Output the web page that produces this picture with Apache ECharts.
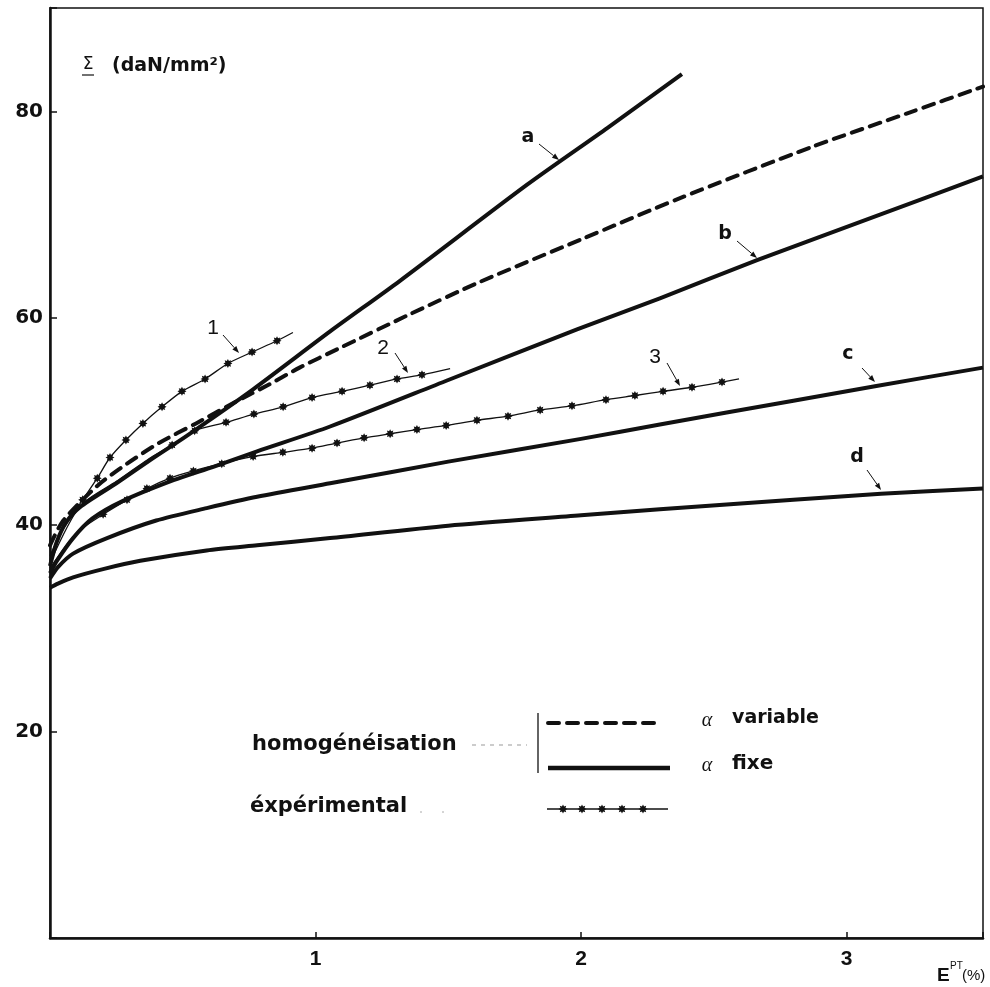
<!DOCTYPE html>
<html>
<head>
<meta charset="utf-8">
<script src="https://cdn.jsdelivr.net/npm/echarts@6/dist/echarts.min.js"></script>
<style>
html,body{margin:0;padding:0;background:#fff;}
#chart{width:990px;height:987px;}
</style>
</head>
<body>
<div id="chart"></div>
<script>
// ---- data (E^PT in %, Sigma in daN/mm2) ----
const xTicks = [1, 2, 3];
const yTicks = [20, 40, 60, 80];

const curveVariable = [[0,38.0],[0.05,40.4],[0.18,43.8],[0.29,45.9],[0.41,47.9],[0.55,49.8],[0.7,51.9],[0.828,53.6],[0.94,55.2],[1.092,57.1],[1.35,60.3],[1.62,63.5],[2.0,67.6],[2.373,71.6],[2.874,76.6],[3.25,80.0],[3.514,82.4]];
const curveA = [[0,36.0],[0.025,38.3],[0.06,40.2],[0.113,41.7],[0.25,44.0],[0.38,46.3],[0.515,48.6],[0.765,53.1],[1.055,58.7],[1.318,63.6],[1.797,72.9],[2.1,78.4],[2.38,83.6]];
const curveB = [[0,35.3],[0.026,36.5],[0.087,38.7],[0.16,40.6],[0.275,42.3],[0.465,44.3],[0.615,45.6],[0.78,47.1],[1.055,49.5],[1.5,54.0],[1.985,58.9],[2.297,61.9],[2.663,65.6],[3.126,70.0],[3.514,73.7]];
const curveC = [[0,34.8],[0.03,35.9],[0.087,37.2],[0.215,38.7],[0.4,40.4],[0.59,41.6],[0.78,42.7],[1.055,44.0],[1.5,46.1],[2.0,48.3],[2.297,49.7],[2.8,52.0],[3.107,53.4],[3.514,55.2]];
const curveD = [[0,33.9],[0.03,34.3],[0.087,34.9],[0.2,35.7],[0.34,36.5],[0.59,37.5],[0.78,38.0],[1.055,38.7],[1.5,39.9],[2.0,40.9],[2.297,41.5],[2.8,42.4],[3.13,43.0],[3.514,43.5]];

const exp1 = [[0,37.0],[0.05,39.6],[0.123,42.4],[0.178,44.5],[0.226,46.5],[0.286,48.2],[0.35,49.8],[0.422,51.4],[0.497,52.9],[0.584,54.1],[0.67,55.6],[0.761,56.7],[0.855,57.8],[0.915,58.6]];
const exp2 = [[0,36.3],[0.113,41.8],[0.25,44.2],[0.38,46.5],[0.46,47.7],[0.545,49.1],[0.663,49.9],[0.768,50.7],[0.878,51.4],[0.987,52.3],[1.10,52.9],[1.205,53.5],[1.307,54.1],[1.401,54.5],[1.507,55.1]];
const exp3 = [[0,35.8],[0.1,39.2],[0.2,41.0],[0.29,42.4],[0.365,43.5],[0.452,44.5],[0.54,45.2],[0.647,45.9],[0.765,46.6],[0.877,47.0],[0.987,47.4],[1.081,47.9],[1.183,48.4],[1.281,48.8],[1.382,49.2],[1.492,49.6],[1.608,50.1],[1.725,50.5],[1.846,51.1],[1.966,51.5],[2.094,52.1],[2.203,52.5],[2.309,52.9],[2.418,53.3],[2.531,53.8],[2.595,54.1]];

// ---- styling ----
const INK = '#111';
const starSym = 'path://M10,0 L5.54,2.3 L7.07,7.07 L2.3,5.54 L0,10 L-2.3,5.54 L-7.07,7.07 L-5.54,2.3 L-10,0 L-5.54,-2.3 L-7.07,-7.07 L-2.3,-5.54 L0,-10 L2.3,-5.54 L7.07,-7.07 L5.54,-2.3 Z';

function withMarkers(arr, from, to) {
  return arr.map((p, i) => (i >= from && i <= to) ? { value: p } : { value: p, symbol: 'none' });
}

function thick(name, data, dashed) {
  return {
    name, type: 'line', data, smooth: 0.25, showSymbol: false, symbol: 'none',
    lineStyle: { color: INK, width: 4, type: dashed ? [11, 8] : 'solid', cap: dashed ? 'round' : 'butt', join: 'round' },
    z: 3, silent: true
  };
}
function expe(name, data) {
  return {
    name, type: 'line', data, smooth: 0.25, showSymbol: true,
    symbol: starSym, symbolSize: 9, itemStyle: { color: INK },
    lineStyle: { color: INK, width: 1.3 }, z: 4, silent: true
  };
}

const FB = 'DejaVu Sans';
const FN = '"Liberation Sans Narrow", "Liberation Sans", sans-serif';

function txt(x, y, s, size, opts) {
  return {
    type: 'text', x, y,
    style: Object.assign({ text: s, fill: INK, fontSize: size, fontFamily: FB, fontWeight: 'bold', textAlign: 'center', textVerticalAlign: 'middle' }, (opts || {}))
  };
}
function arrow(x1, y1, x2, y2) {
  const dx = x2 - x1, dy = y2 - y1, L = Math.hypot(dx, dy), ux = dx / L, uy = dy / L;
  const bx = x2 - ux * 7, by = y2 - uy * 7;
  return [
    { type: 'line', shape: { x1, y1, x2: bx, y2: by }, style: { stroke: INK, lineWidth: 1 } },
    { type: 'polygon', shape: { points: [[x2, y2], [bx - uy * 2.6, by + ux * 2.6], [bx + uy * 2.6, by - ux * 2.6]] }, style: { fill: INK } }
  ];
}
function starPoly(cx, cy, r) {
  const pts = [];
  for (let k = 0; k < 16; k++) {
    const ang = k * Math.PI / 8, rr = (k % 2 === 0) ? r : r * 0.6;
    pts.push([cx + rr * Math.cos(ang), cy + rr * Math.sin(ang)]);
  }
  return { type: 'polygon', shape: { points: pts }, style: { fill: INK } };
}

const graphics = [];
// axis titles
graphics.push(txt(88, 65, 'Σ', 17, { fontWeight: 'normal' }));
graphics.push({ type: 'line', shape: { x1: 82, y1: 75, x2: 94, y2: 75 }, style: { stroke: INK, lineWidth: 1.2 } });
graphics.push(txt(112, 66, '(daN/mm²)', 19, { textAlign: 'left' }));
graphics.push(txt(937, 976, 'E', 19, { textAlign: 'left', fontFamily: FN }));
graphics.push(txt(950, 966, 'PT', 10, { textAlign: 'left', fontFamily: FN, fontWeight: 'normal' }));
graphics.push(txt(962, 976, '(%)', 15, { textAlign: 'left', fontFamily: FN, fontWeight: 'normal' }));
// curve labels
graphics.push(txt(528, 137, 'a', 19));
graphics.push(...arrow(539, 144, 559, 160));
graphics.push(txt(725, 234, 'b', 19));
graphics.push(...arrow(737, 241, 757, 258));
graphics.push(txt(848, 354, 'c', 19));
graphics.push(...arrow(862, 368, 875, 382));
graphics.push(txt(857, 457, 'd', 19));
graphics.push(...arrow(867, 470, 881, 490));
graphics.push(txt(213, 328, '1', 21, { fontFamily: FN, fontWeight: 'normal' }));
graphics.push(...arrow(223, 335, 239, 353));
graphics.push(txt(383, 348, '2', 21, { fontFamily: FN, fontWeight: 'normal' }));
graphics.push(...arrow(395, 353, 408, 373));
graphics.push(txt(655, 357, '3', 21, { fontFamily: FN, fontWeight: 'normal' }));
graphics.push(...arrow(667, 363, 680, 386));
// legend
graphics.push(txt(252, 745, 'homogénéisation', 21, { textAlign: 'left' }));
graphics.push({ type: 'line', shape: { x1: 472, y1: 745, x2: 527, y2: 745 }, style: { stroke: '#999', lineWidth: 1, lineDash: [4, 5] } });
graphics.push({ type: 'line', shape: { x1: 538, y1: 713, x2: 538, y2: 773 }, style: { stroke: INK, lineWidth: 1.3 } });
graphics.push({ type: 'line', shape: { x1: 548, y1: 723, x2: 662, y2: 723 }, style: { stroke: INK, lineWidth: 4, lineDash: [11, 8], lineCap: 'round' } });
graphics.push({ type: 'line', shape: { x1: 548, y1: 768, x2: 670, y2: 768 }, style: { stroke: INK, lineWidth: 4.5 } });
graphics.push(txt(707, 721, 'α', 20, { fontFamily: '"Liberation Serif", serif', fontWeight: 'normal', fontStyle: 'italic' }));
graphics.push(txt(732, 718, 'variable', 19, { textAlign: 'left' }));
graphics.push(txt(707, 766, 'α', 20, { fontFamily: '"Liberation Serif", serif', fontWeight: 'normal', fontStyle: 'italic' }));
graphics.push(txt(732, 764, 'fixe', 20, { textAlign: 'left' }));
graphics.push(txt(250, 807, 'éxpérimental', 21, { textAlign: 'left' }));
graphics.push({ type: 'line', shape: { x1: 420, y1: 812, x2: 450, y2: 812 }, style: { stroke: '#aaa', lineWidth: 1, lineDash: [2, 20] } });
graphics.push({ type: 'line', shape: { x1: 547, y1: 809, x2: 668, y2: 809 }, style: { stroke: INK, lineWidth: 1.3 } });
[563, 582, 602, 622, 643].forEach(cx => graphics.push(starPoly(cx, 809, 4.5)));

const chart = echarts.init(document.getElementById('chart'), null, { renderer: 'canvas' });
chart.setOption({
  animation: false,
  backgroundColor: '#fff',
  grid: { left: 50, right: 7, top: 8, bottom: 49, show: true, borderColor: INK, borderWidth: 1.5, backgroundColor: 'transparent' },
  xAxis: {
    type: 'value', min: 0, max: 3.514, interval: 1,
    axisLine: { show: true, lineStyle: { color: INK, width: 2.5 } },
    axisTick: { show: true, inside: true, length: 6, lineStyle: { color: INK, width: 1.5 } },
    splitLine: { show: false },
    axisLabel: {
      margin: 11, color: INK, fontSize: 21, fontFamily: FN, fontWeight: 'bold',
      formatter: v => xTicks.indexOf(v) >= 0 ? String(v) : ''
    }
  },
  yAxis: {
    type: 'value', min: 0, max: 90, interval: 20,
    axisLine: { show: true, lineStyle: { color: INK, width: 2.5 } },
    axisTick: { show: true, inside: true, length: 7, lineStyle: { color: INK, width: 1.5 } },
    splitLine: { show: false },
    axisLabel: {
      margin: 7, color: INK, fontSize: 20, fontFamily: FB, fontWeight: 'bold',
      formatter: v => yTicks.indexOf(v) >= 0 ? String(v) : ''
    }
  },
  series: [
    thick('alpha variable', curveVariable, true),
    thick('a', curveA, false),
    thick('b', curveB, false),
    thick('c', curveC, false),
    thick('d', curveD, false),
    expe('1', withMarkers(exp1, 2, 12)),
    expe('2', withMarkers(exp2, 4, 13)),
    expe('3', withMarkers(exp3, 2, 24))
  ],
  graphic: graphics
});
</script>
</body>
</html>
